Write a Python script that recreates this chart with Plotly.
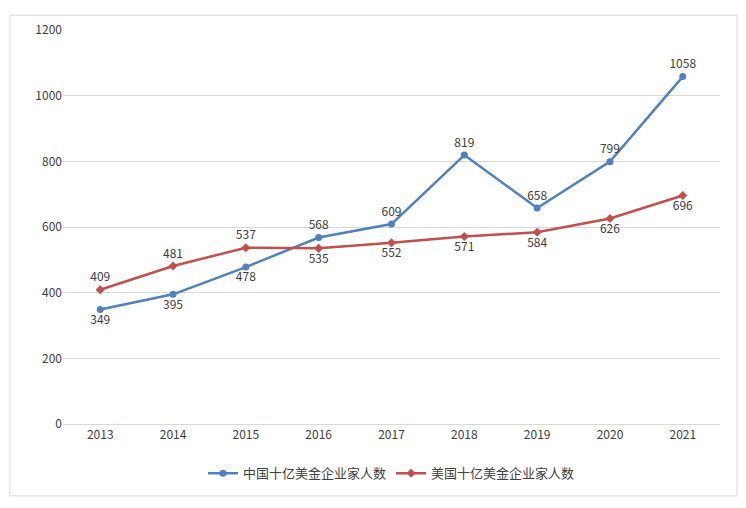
import plotly.graph_objects as go

years = ["2013", "2014", "2015", "2016", "2017", "2018", "2019", "2020", "2021"]
china = [349, 395, 478, 568, 609, 819, 658, 799, 1058]
usa = [409, 481, 537, 535, 552, 571, 584, 626, 696]

china_pos = ["bottom center"] * 3 + ["top center"] * 6
usa_pos = ["top center"] * 3 + ["bottom center"] * 6

fig = go.Figure()
fig.add_trace(go.Scatter(
    x=years, y=china, name="中国十亿美金企业家人数",
    mode="lines+markers+text", text=[str(v) for v in china],
    textposition=china_pos, textfont=dict(size=12, color="#404040"),
    line=dict(color="#4F81BD", width=2.5), marker=dict(symbol="circle", size=7),
))
fig.add_trace(go.Scatter(
    x=years, y=usa, name="美国十亿美金企业家人数",
    mode="lines+markers+text", text=[str(v) for v in usa],
    textposition=usa_pos, textfont=dict(size=12, color="#404040"),
    line=dict(color="#C0504D", width=2.5), marker=dict(symbol="diamond", size=7),
))

fig.update_layout(
    width=730, height=492,
    margin=dict(l=55, r=18, t=16, b=76),
    paper_bgcolor="white", plot_bgcolor="white",
    font=dict(family="Noto Sans CJK SC, DejaVu Sans", size=12, color="#404040"),
    showlegend=True,
    legend=dict(orientation="h", x=0.5, xanchor="center", y=-0.125, yanchor="middle",
                font=dict(size=13)),
    xaxis=dict(type="category", showgrid=False, showline=True, linecolor="#D9D9D9",
               ticks="", tickfont=dict(size=12)),
    yaxis=dict(range=[0, 1200], dtick=200, showgrid=True, gridcolor="#D9D9D9",
               zeroline=False, showline=False, tickfont=dict(size=12)),
    shapes=[dict(type="rect", xref="paper", yref="paper",
                 x0=-0.0807, x1=1.0259, y0=-0.1825, y1=1.0375,
                 line=dict(color="#D9D9D9", width=1))],
)

fig.write_html("out.html")
